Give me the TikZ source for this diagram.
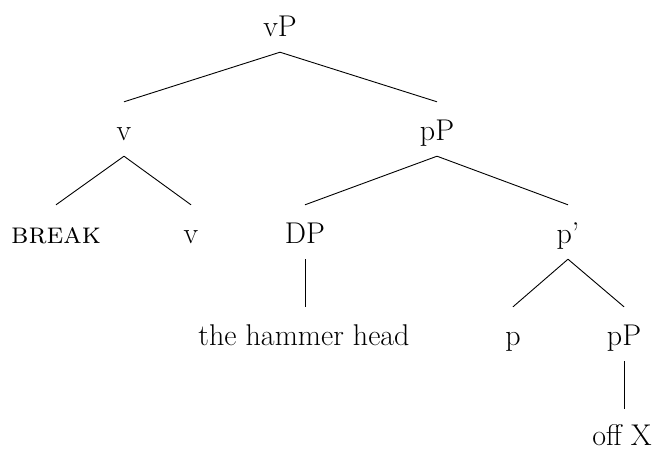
\documentclass[tikz,border=0pt]{standalone}
\usepackage{fontspec}
\begin{document}
\begin{tikzpicture}[x=1pt,y=-1pt,
  lbl/.style={inner sep=0pt, anchor=base, text height=38pt, text depth=16pt,
              font=\fontsize{30}{34}\selectfont},
  leaf/.style={lbl, text depth=0pt},
  edge/.style={draw=black, line width=0.9pt}]
  \useasboundingbox (0,0) rectangle (656,451);
  % row 0
  \node[lbl] (vP)  at (280,36)  {vP};
  % row 1
  \node[lbl] (v)   at (124,140) {v};
  \node[lbl] (pP)  at (437,140) {pP};
  % row 2
  \node[lbl] (brk) at (56,243)  {\textsc{break}};
  \node[lbl] (v2)  at (191,243) {v};
  \node[lbl] (DP)  at (305,243) {DP};
  \node[lbl] (pb)  at (568,243) {p'};
  % row 3
  \node[lbl] (hh)  at (304,345) {the hammer head};
  \node[lbl] (p)   at (513,345) {p};
  \node[lbl] (pP2) at (624,345) {pP};
  % row 4
  \node[leaf] (off) at (622,445) {off X};
  % branches
  \path[edge] (vP.south) -- (v.north);
  \path[edge] (vP.south) -- (pP.north);
  \path[edge] (v.south) -- (brk.north);
  \path[edge] (v.south) -- (v2.north);
  \path[edge] (pP.south) -- (DP.north);
  \path[edge] (pP.south) -- (pb.north);
  \path[edge] (DP.south) -- (DP.south |- hh.north);
  \path[edge] (pb.south) -- (p.north);
  \path[edge] (pb.south) -- (pP2.north);
  \path[edge] (pP2.south) -- ([yshift=-2pt]pP2.south |- off.north);
\end{tikzpicture}
\end{document}
